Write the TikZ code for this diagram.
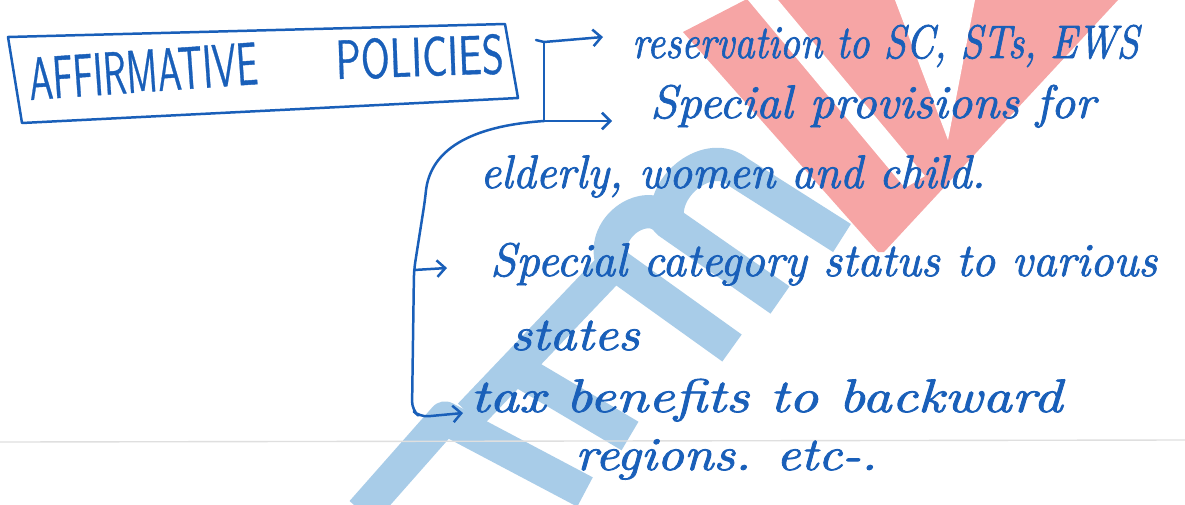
\documentclass[tikz,border=0pt]{standalone}
\usepackage{graphicx}
\usepackage{fontspec}
\newfontfamily\handfont{lmroman10-italic.otf}[FakeBold=1.6]
\newfontfamily\capsfont{lmsans10-regular.otf}[FakeBold=0.7]
\usetikzlibrary{arrows.meta}
\definecolor{ink}{RGB}{25,95,185}
\definecolor{wmred}{RGB}{246,165,165}
\definecolor{wmblue}{RGB}{168,204,232}
\newcommand{\hw}[2]{\scalebox{#1}[1]{#2}}
\begin{document}
\begin{tikzpicture}[x=0.0254cm,y=-0.0254cm,
  hand/.style={text=ink, anchor=base west, font=\fontsize{34}{38}\handfont\bfseries, inner sep=0pt},
  caps/.style={text=ink, anchor=base west, inner sep=0pt, font=\fontsize{38}{40}\capsfont\bfseries},
  conn/.style={draw=ink, line width=1.8pt, line cap=round, line join=round},
  tip/.style={-{Straight Barb[length=6pt,width=12pt,line width=1.8pt]}},
  wm/.style={draw=wmblue, line width=24pt, line cap=butt, line join=round}]
\useasboundingbox (0,0) rectangle (1185,504);
\fill[white] (0,0) rectangle (1185,504);
% watermark
\fill[wmred] (683,32) -- (745,0) -- (1118,0) -- (884,252) -- (878,252) -- cycle;
\fill[white] (748,0) -- (778,0) -- (925,176) -- (905,188) -- cycle;
\fill[white] (895,0) -- (975,0) -- (948,140) -- cycle;
\draw[wm] (362,512) -- (445,418) -- (585,492);
\draw[wm] (505,362) -- (630,436);
\draw[wm] (470,415) -- (612,266);
\draw[wm] (732,348) -- (612,262) .. controls (600,225) and (650,195) .. (668,222) -- (780,300);
\draw[wm] (668,222) .. controls (660,185) and (710,148) .. (738,172) -- (842,238);
\draw[gray!25, line width=1pt] (0,442) -- (1185,440);
% title box
\coordinate (b1) at (8,37);
\coordinate (b2) at (505,24);
\coordinate (b3) at (518,98);
\coordinate (b4) at (22,123);
\draw[conn] (b1) -- (b2) -- (b3) -- (b4) -- cycle;
\node[caps, rotate=4] (t1) at (30,100) {\scalebox{0.68}[1.15]{AFFIRMATIVE}};
\node[caps, rotate=2] (t2) at (336,79) {\scalebox{0.75}[1.05]{POLICIES}};
% texts
\node[hand] (r1) at (632,58) {\hw{0.84}{reservation to SC, STs, EWS}};
\node[hand] (r2) at (650,118) {\hw{1.02}{Special provisions for}};
\node[hand] (r2b) at (480,188) {\hw{0.96}{elderly, women and child.}};
\node[hand] (r3) at (490,276) {\hw{0.98}{Special category status to various}};
\node[hand] (r3b) at (510,350) {\hw{1.12}{states}};
\node[hand] (r4) at (470,412) {\hw{1.22}{tax benefits to backward}};
\node[hand] (r4b) at (575,470) {\hw{1.12}{regions. etc-.}};
% connectors
\coordinate (j0) at (536,40);
\coordinate (j1) at (544,42);
\coordinate (j2) at (544,121);
\coordinate (a1) at (603,37);
\coordinate (a2) at (612,121);
\coordinate (c1) at (425,200);
\coordinate (c2) at (414,270);
\coordinate (c3) at (412,410);
\coordinate (a3) at (447,268);
\coordinate (a4) at (463,413);
\draw[conn, tip] (j0) -- (j1) -- (a1);
\draw[conn] (j1) -- (j2);
\draw[conn, tip] (j2) -- (a2);
\draw[conn, tip, rounded corners=6pt] (j2) .. controls (470,126) and (430,150) .. (c1) -- (c2) -- (c3) -- (420,417) -- (a4);
\draw[conn, tip] (c2) -- (a3);
\end{tikzpicture}
\end{document}
